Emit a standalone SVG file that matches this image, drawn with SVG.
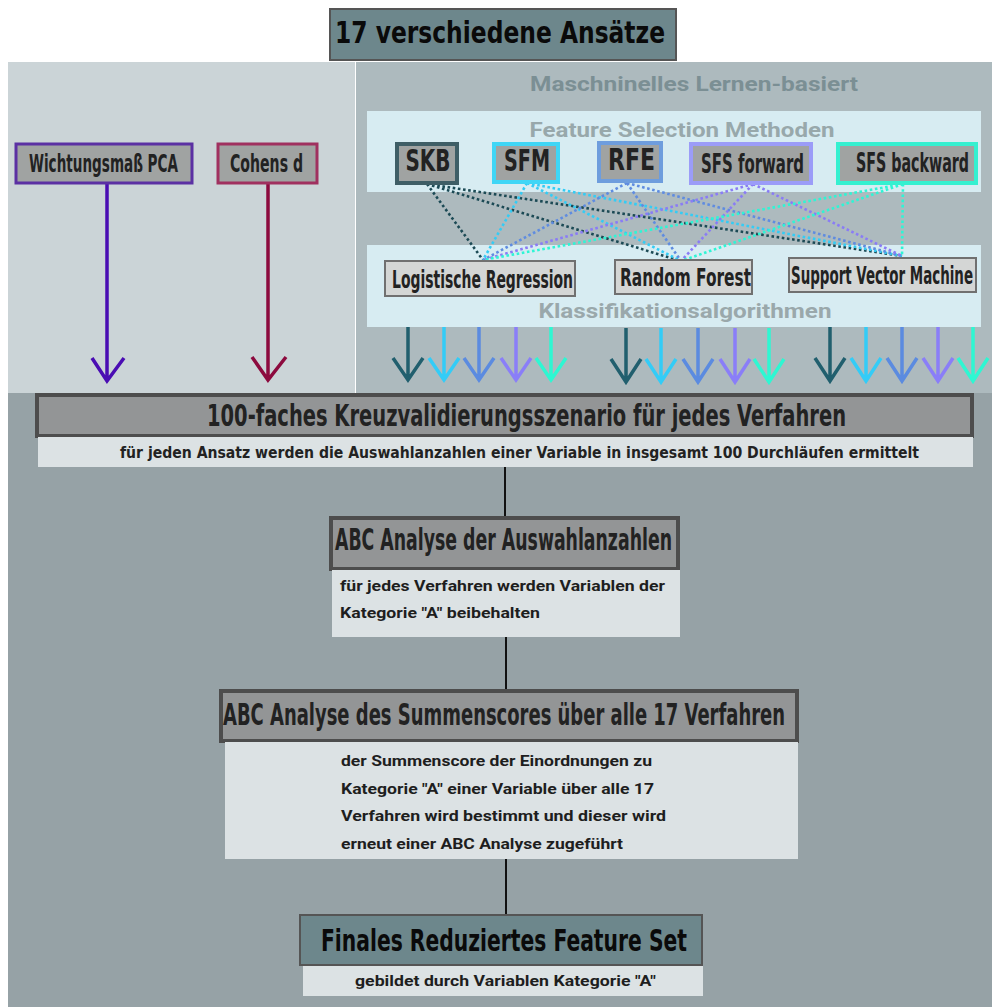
<svg xmlns="http://www.w3.org/2000/svg" width="992" height="1007" viewBox="0 0 992 1007">
<style>
.cond{font-family:"DejaVu Sans Condensed","Liberation Sans",sans-serif;font-weight:bold;fill:#222;text-anchor:middle}
.wide{font-family:Roboto,"Liberation Sans",sans-serif;font-weight:bold;fill:#1e1e1e}
.head{fill:#939596;stroke:#4d4d4d;stroke-width:4}
.sub{fill:#dce2e4}
.meth{fill:#a0a3a2;stroke-width:4}
.clf{fill:#d4d6d5;stroke:#707070;stroke-width:2}
.dot{fill:none;stroke-width:2.6;stroke-dasharray:2.6 2.6}
.arr{fill:none;stroke-width:3.5;stroke-linejoin:miter}
.conn{stroke:#111;stroke-width:2}
</style>
<rect x="0" y="0" width="992" height="1007" fill="#ffffff"/>
<g id="backgrounds">
<rect x="8" y="62" width="347" height="331" fill="#cbd4d7"/>
<rect x="356" y="62" width="636" height="331" fill="#adbabe"/>
<rect x="8" y="393" width="984" height="614" fill="#96a2a6"/>
<rect x="367" y="111" width="614" height="81" fill="#d7ecf2"/>
<rect x="367" y="245" width="614" height="82" fill="#d7ecf2"/>
<text x="694" y="91" text-anchor="middle" class="wide" style="fill:#7b8f94" font-size="20" textLength="328" lengthAdjust="spacingAndGlyphs">Maschninelles Lernen-basiert</text>
<text x="682" y="137" text-anchor="middle" class="wide" style="fill:#98a8ab" font-size="20" textLength="305" lengthAdjust="spacingAndGlyphs">Feature Selection Methoden</text>
<text x="685" y="318" text-anchor="middle" class="wide" style="fill:#9aa8ab" font-size="20" textLength="293" lengthAdjust="spacingAndGlyphs">Klassifikationsalgorithmen</text>
</g>
<g id="title">
<rect x="330" y="9" width="346" height="51" fill="#6d878c" stroke="#555" stroke-width="2"/>
<text transform="translate(500 43) scale(1 1.24)" class="cond" style="fill:#0a0a0a" font-size="25" textLength="330" lengthAdjust="spacingAndGlyphs">17 verschiedene Ansätze</text>
</g>
<g id="connectors">
<g id="dotted">
<path class="dot" stroke="#1c4a55" d="M427 184 L483 260 M427 184 L681 261 M427 184 L902 256"/>
<path class="dot" stroke="#33ccf5" d="M527 183 L483 260 M527 183 L681 261 M527 183 L902 256"/>
<path class="dot" stroke="#5f8ce0" d="M627 183 L483 260 M627 183 L681 261 M627 183 L902 256"/>
<path class="dot" stroke="#8a7cf5" d="M753 184 L483 260 M753 184 L681 261 M753 184 L902 256"/>
<path class="dot" stroke="#2ef5d5" d="M903 184 L483 260 M903 184 L681 261 M903 184 L902 256"/>
</g>
<path class="arr" stroke="#4a0db3" d="M107 184 V380 M92 358 L107 381 L124 358"/>
<path class="arr" stroke="#8c0a3e" d="M268 184 V379 M252 357 L268 380 L286 357"/>
<g id="arrows">
<path class="arr" stroke="#215f6e" d="M408 327V379M393 358L408 380L423 358M626 328V381M611 359L626 382L641 359M830 327V380M815 358L830 381L845 358"/>
<path class="arr" stroke="#33ccf7" d="M444 327V379M429 358L444 380L459 358M661 328V381M646 359L661 382L676 359M866 327V380M851 358L866 381L881 358"/>
<path class="arr" stroke="#5b8be0" d="M479 327V379M464 358L479 380L494 358M698 328V381M683 359L698 382L713 359M902 327V380M887 358L902 381L917 358"/>
<path class="arr" stroke="#8a7ef8" d="M516 327V379M501 358L516 380L531 358M735 328V381M720 359L735 382L750 359M938 327V380M923 358L938 381L953 358"/>
<path class="arr" stroke="#2ef7d2" d="M551 327V379M536 358L551 380L566 358M769 328V381M754 359L769 382L784 359M973 327V380M958 358L973 381L988 358"/>
</g>
<path class="conn" d="M505 467V517M506 637V690M506 859V915"/>
</g>
<g id="pca">
<rect x="16" y="144" width="176" height="39" fill="#a0a3a2" stroke="#5b30a3" stroke-width="3"/>
<text transform="translate(103.5 172) scale(1 1.644)" class="cond" font-size="14.6" textLength="149" lengthAdjust="spacingAndGlyphs">Wichtungsmaß PCA</text>
</g>
<g id="cohens">
<rect x="218" y="144" width="99" height="39" fill="#a0a3a2" stroke="#a0305f" stroke-width="3"/>
<text transform="translate(266.5 172) scale(1 1.58)" class="cond" font-size="15.2" textLength="73" lengthAdjust="spacingAndGlyphs">Cohens d</text>
</g>
<g id="skb">
<rect x="397" y="144" width="60" height="39" class="meth" stroke="#3f5e66"/>
<text transform="translate(428 171) scale(1 1.395)" class="cond" font-size="21.5" textLength="45" lengthAdjust="spacingAndGlyphs">SKB</text>
</g>
<g id="sfm">
<rect x="494" y="144" width="64" height="38" class="meth" stroke="#3fd6f6"/>
<text transform="translate(527 171) scale(1 1.45)" class="cond" font-size="20.7" textLength="46" lengthAdjust="spacingAndGlyphs">SFM</text>
</g>
<g id="rfe">
<rect x="599" y="143" width="62" height="38" class="meth" stroke="#6e9ddd"/>
<text transform="translate(631.5 170) scale(1 1.26)" class="cond" font-size="23.8" textLength="47" lengthAdjust="spacingAndGlyphs">RFE</text>
</g>
<g id="sfs-forward">
<rect x="691" y="144" width="120" height="39" class="meth" stroke="#9b9cf8"/>
<text transform="translate(752.5 173) scale(1 1.615)" class="cond" font-size="16.1" textLength="103" lengthAdjust="spacingAndGlyphs">SFS forward</text>
</g>
<g id="sfs-backward">
<rect x="838" y="144" width="138" height="39" class="meth" stroke="#35f0d0"/>
<text transform="translate(912.5 172) scale(1 1.7)" class="cond" font-size="15.3" textLength="113" lengthAdjust="spacingAndGlyphs">SFS backward</text>
</g>
<g id="logreg">
<rect x="385" y="261" width="190" height="35" class="clf"/>
<text transform="translate(482.5 288) scale(1 1.6)" class="cond" font-size="15" textLength="181" lengthAdjust="spacingAndGlyphs">Logistische Regression</text>
</g>
<g id="randomforest">
<rect x="615" y="260" width="137" height="34" class="clf"/>
<text transform="translate(685.5 286) scale(1 1.455)" class="cond" font-size="16.5" textLength="131" lengthAdjust="spacingAndGlyphs">Random Forest</text>
</g>
<g id="svm">
<rect x="789" y="258" width="187" height="34" class="clf"/>
<text transform="translate(882 284) scale(1 1.667)" class="cond" font-size="14.4" textLength="182" lengthAdjust="spacingAndGlyphs">Support Vector Machine</text>
</g>
<g id="crossval">
<rect x="37" y="395" width="935" height="41" class="head"/>
<rect x="38" y="437" width="935" height="30" class="sub"/>
<text transform="translate(526.5 426) scale(1 1.476)" class="cond" font-size="21" textLength="639" lengthAdjust="spacingAndGlyphs">100-faches Kreuzvalidierungsszenario für jedes Verfahren</text>
<text x="519.5" y="458" class="cond" font-size="15" textLength="799" lengthAdjust="spacingAndGlyphs">für jeden Ansatz werden die Auswahlanzahlen einer Variable  in insgesamt 100 Durchläufen ermittelt</text>
</g>
<g id="abc1">
<rect x="331" y="518" width="347" height="51" class="head"/>
<rect x="332" y="570" width="348" height="67" class="sub"/>
<text transform="translate(503.5 550) scale(1 1.604)" class="cond" font-size="18.7" textLength="337" lengthAdjust="spacingAndGlyphs">ABC Analyse der Auswahlanzahlen</text>
<text x="340" y="591" class="wide" font-size="15" textLength="325" lengthAdjust="spacingAndGlyphs">für jedes Verfahren werden Variablen der</text>
<text x="340" y="618" class="wide" font-size="15" textLength="200" lengthAdjust="spacingAndGlyphs">Kategorie "A" beibehalten</text>
</g>
<g id="abc2">
<rect x="221" y="691" width="576" height="50" class="head"/>
<rect x="225" y="742" width="573" height="117" class="sub"/>
<text transform="translate(504 725) scale(1 1.554)" class="cond" font-size="19.3" textLength="562" lengthAdjust="spacingAndGlyphs">ABC Analyse des Summenscores über alle 17 Verfahren</text>
<text x="341" y="766" class="wide" font-size="15" textLength="311" lengthAdjust="spacingAndGlyphs">der Summenscore der Einordnungen zu</text>
<text x="341" y="794" class="wide" font-size="15" textLength="313" lengthAdjust="spacingAndGlyphs">Kategorie "A" einer Variable über alle 17</text>
<text x="341" y="821" class="wide" font-size="15" textLength="325" lengthAdjust="spacingAndGlyphs">Verfahren wird bestimmt und dieser wird</text>
<text x="341" y="849" class="wide" font-size="15" textLength="282" lengthAdjust="spacingAndGlyphs">erneut einer ABC Analyse zugeführt</text>
</g>
<g id="final">
<rect x="300" y="915" width="402" height="50" fill="#6d878c" stroke="#555" stroke-width="2"/>
<rect x="303" y="966" width="400" height="30" class="sub"/>
<text transform="translate(504 951) scale(1 1.376)" class="cond" style="fill:#0a0a0a" font-size="21.8" textLength="366" lengthAdjust="spacingAndGlyphs">Finales Reduziertes Feature Set</text>
<text x="355" y="986" class="wide" font-size="14" textLength="301" lengthAdjust="spacingAndGlyphs">gebildet durch Variablen Kategorie "A"</text>
</g>
</svg>
